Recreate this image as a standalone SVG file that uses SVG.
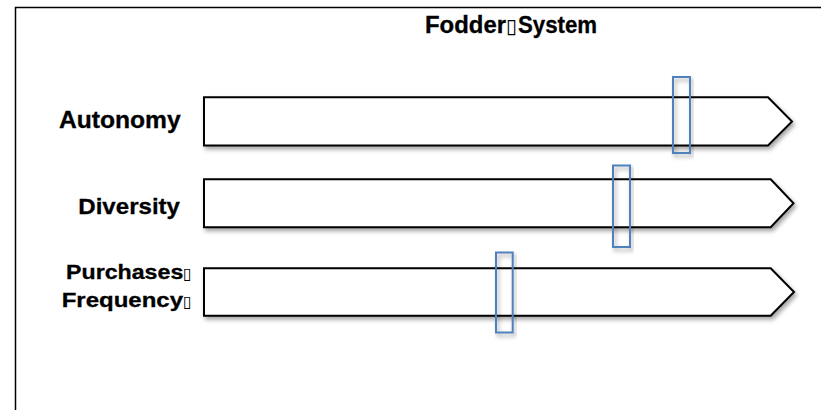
<svg xmlns="http://www.w3.org/2000/svg" width="821" height="410" viewBox="0 0 821 410">
  <defs>
    <filter id="sh" x="-10%" y="-20%" width="130%" height="150%">
      <feDropShadow dx="2" dy="3" stdDeviation="2" flood-color="#000" flood-opacity="0.35"/>
    </filter>
    <style>
      .lbl { font-family: "Liberation Sans", Arial, sans-serif; font-weight: bold; fill: #000; stroke: #000; stroke-width: 0.3; }
      .box { font-family: "DejaVu Sans", sans-serif; font-weight: normal; stroke: none; }
      .arrow { fill: #fff; stroke: #000; stroke-width: 2; stroke-linejoin: miter; filter: url(#sh); }
      .marker { fill: none; stroke: #4F81BD; stroke-width: 2; filter: url(#sh); }
      .frame { fill: none; stroke: #000; stroke-width: 1.5; }
    </style>
  </defs>
  <rect width="821" height="410" fill="#fff"/>
  <g id="frame">
    <path class="frame" d="M15.5,410 V7.5 H821"/>
  </g>
  <g id="title">
    <text class="lbl" y="33.3" font-size="23"><tspan x="425" textLength="81" lengthAdjust="spacingAndGlyphs">Fodder</tspan><tspan class="box" x="506" font-size="20">▯</tspan><tspan x="518" textLength="79" lengthAdjust="spacingAndGlyphs">System</tspan></text>
  </g>
  <g id="connectors">
    <g id="arrow-autonomy">
      <path class="arrow" d="M204,97.3 H768 L792,121.5 L768,145.5 H204 Z"/>
    </g>
    <g id="arrow-diversity">
      <path class="arrow" d="M204,179.3 H770.7 L793.5,203.3 L770.7,227.3 H204 Z"/>
    </g>
    <g id="arrow-purchases">
      <path class="arrow" d="M204,268.3 H770.7 L794,292 L770.7,315.7 H204 Z"/>
    </g>
  </g>
  <g id="label-autonomy">
    <text class="lbl" x="59" y="128.3" font-size="23" textLength="121.7" lengthAdjust="spacingAndGlyphs">Autonomy</text>
  </g>
  <g id="label-diversity">
    <text class="lbl" x="78.3" y="214.3" font-size="22.5" textLength="101.7" lengthAdjust="spacingAndGlyphs">Diversity</text>
  </g>
  <g id="label-purchases">
    <text class="lbl" y="279.3" font-size="20.5"><tspan x="66" textLength="117.3" lengthAdjust="spacingAndGlyphs">Purchases</tspan><tspan class="box" x="183" font-size="16">▯</tspan></text>
    <text class="lbl" y="306.7" font-size="20.5"><tspan x="61.7" textLength="121.3" lengthAdjust="spacingAndGlyphs">Frequency</tspan><tspan class="box" x="183" font-size="16">▯</tspan></text>
  </g>
  <g id="marker-autonomy">
    <rect class="marker" x="673" y="77" width="17" height="76"/>
  </g>
  <g id="marker-diversity">
    <rect class="marker" x="613" y="165.5" width="17" height="81.5"/>
  </g>
  <g id="marker-purchases">
    <rect class="marker" x="496" y="252.5" width="16.7" height="80"/>
  </g>
</svg>
